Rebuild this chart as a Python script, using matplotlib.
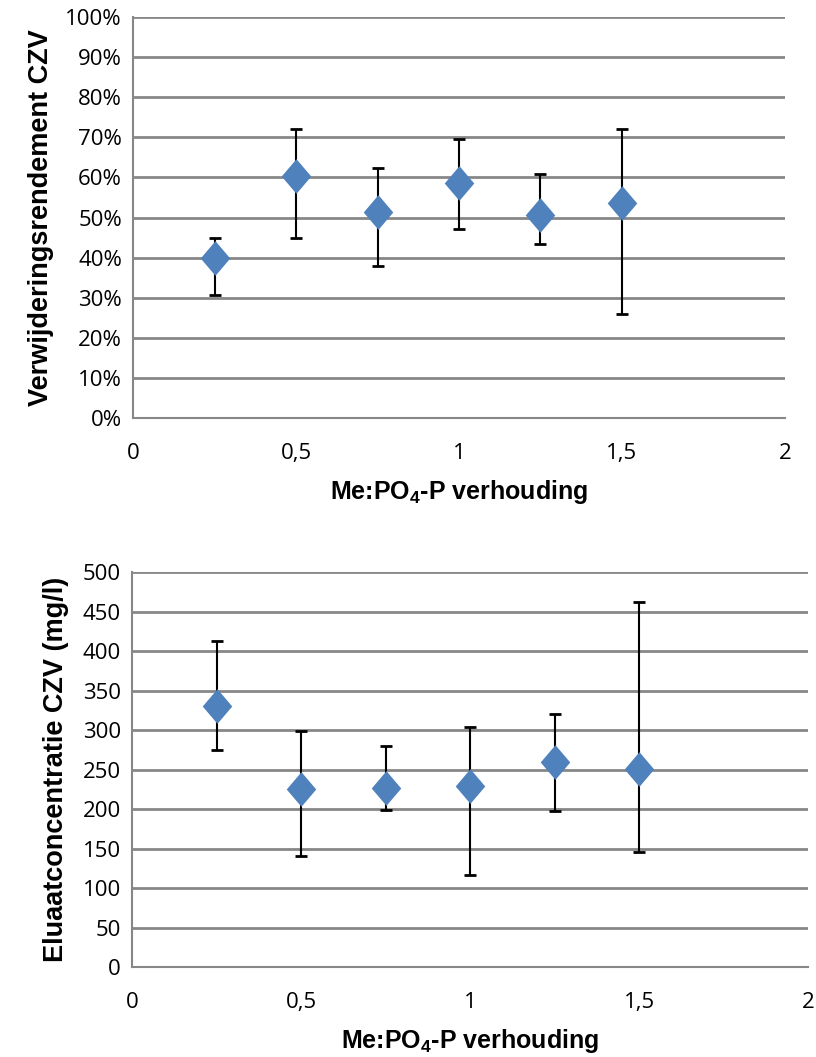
import numpy as np
import matplotlib
matplotlib.use("Agg")
import matplotlib.pyplot as plt
from matplotlib.path import Path
from matplotlib.ticker import FuncFormatter

# data
ratio = [0.25, 0.5, 0.75, 1.0, 1.25, 1.5]

rend_mean = [40.0, 60.4, 51.4, 58.7, 50.6, 53.5]
rend_high = [44.8, 72.0, 62.3, 69.5, 60.9, 72.0]
rend_low = [30.7, 45.0, 38.0, 47.1, 43.5, 26.0]

conc_mean = [331, 226, 227, 229, 259, 251]
conc_high = [413, 299, 280, 304, 320, 462]
conc_low = [275, 141, 199, 116, 198, 146]

x_ticks = [0, 0.5, 1, 1.5, 2]
x_tick_labels = ["0", "0,5", "1", "1,5", "2"]

BLUE = "#4F81BD"
GRID = "#878787"
TICK_FONT = "Open Sans"
LABEL_FONT = "Liberation Sans"

diamond = Path([(0, 1), (0.85, 0), (0, -1), (-0.85, 0), (0, 1)],
               [Path.MOVETO, Path.LINETO, Path.LINETO, Path.LINETO, Path.CLOSEPOLY])


def draw_panel(ax, mean, low, high, ymax, ystep, ylabel, yfmt, ylabel_pad):
    mean = np.array(mean, dtype=float)
    err = [mean - np.array(low), np.array(high) - mean]
    ax.errorbar(ratio, mean, yerr=err, fmt="none", ecolor="black",
                elinewidth=1.5, capsize=4, capthick=2, zorder=3)
    ax.plot(ratio, mean, linestyle="none", marker=diamond, markersize=25,
            color=BLUE, markeredgewidth=0, zorder=4)

    ax.set_xlim(0, 2)
    ax.set_ylim(0, ymax)
    ax.set_xticks(x_ticks)
    ax.set_xticklabels(x_tick_labels)
    ax.set_yticks(np.arange(0, ymax + ystep / 2, ystep))
    ax.yaxis.set_major_formatter(FuncFormatter(yfmt))
    ax.grid(axis="y", color=GRID, linewidth=2)
    ax.set_axisbelow(True)
    for side in ["top", "right"]:
        ax.spines[side].set_visible(False)
    for side in ["left", "bottom"]:
        ax.spines[side].set_color(GRID)
        ax.spines[side].set_linewidth(1.5)
    ax.tick_params(length=0, labelsize=16, pad=8)
    ax.tick_params(axis="x", pad=18)
    for lab in ax.get_xticklabels() + ax.get_yticklabels():
        lab.set_fontfamily(TICK_FONT)
    ax.set_xlabel("Me:PO$_4$-P verhouding", fontsize=18, fontweight="bold",
                  family=LABEL_FONT, labelpad=10)
    ax.set_ylabel(ylabel, fontsize=19.5, fontweight="bold", family=LABEL_FONT,
                  labelpad=ylabel_pad)


plt.rcParams["mathtext.fontset"] = "custom"
plt.rcParams["mathtext.rm"] = "Liberation Sans:bold"
plt.rcParams["mathtext.default"] = "rm"

fig = plt.figure(figsize=(8.16, 10.57), dpi=100)
ax1 = fig.add_axes([0.163, 0.6045, 0.799, 0.3794])
ax2 = fig.add_axes([0.1618, 0.0851, 0.8284, 0.3737])

draw_panel(ax1, rend_mean, rend_low, rend_high, 100, 10,
           "Verwijderingsrendement CZV", lambda v, p: f"{v:.0f}%", 8)
draw_panel(ax2, conc_mean, conc_low, conc_high, 500, 50,
           "Eluaatconcentratie CZV (mg/l)", lambda v, p: f"{v:.0f}", 10)

fig.savefig("out.png", dpi=100)
